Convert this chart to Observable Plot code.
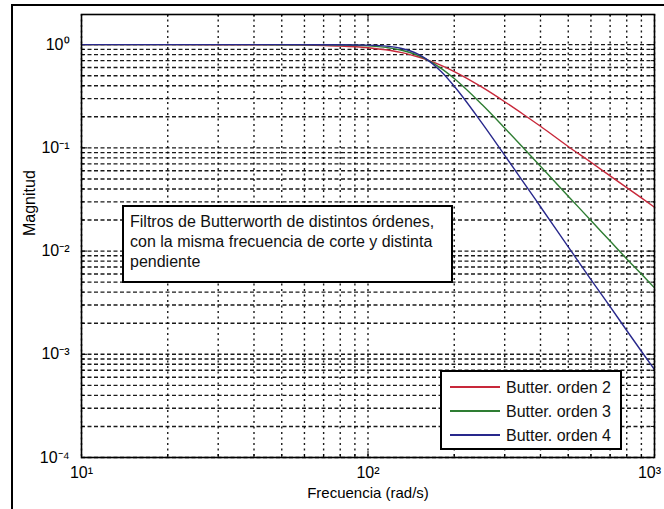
<!DOCTYPE html>
<html><head><meta charset="utf-8">
<script src="https://cdn.jsdelivr.net/npm/d3@7"></script>
<script src="https://cdn.jsdelivr.net/npm/@observablehq/plot@0.6"></script>
<style>
body{margin:0;background:#fff;}
#wrap{position:relative;width:664px;height:509px;overflow:hidden;background:#fff;font-family:"Liberation Sans",Arial,sans-serif;}
#outer{position:absolute;left:11px;top:4px;width:700px;height:600px;border:2px solid #000;box-sizing:border-box;}
#wrap svg{position:absolute;left:0;top:0;}
</style></head><body><div id="wrap"><div id="outer"></div></div>
<script>
// ---- data ----
const freq   = [10, 20, 30, 50, 70, 80, 100, 120, 130, 140, 150, 160, 180, 200, 250, 300, 350, 400, 500, 600, 700, 800, 900, 1000];
const order2 = [1.000, 1.000, 0.9994, 0.9955, 0.983, 0.9715, 0.9345, 0.8767, 0.8408, 0.8012, 0.759, 0.7158, 0.6294, 0.5486, 0.3872, 0.280, 0.2095, 0.1619, 0.1030, 0.0725, 0.0535, 0.0412, 0.0328, 0.0266];
const order3 = [1.000, 1.000, 1.000, 0.9996, 0.9968, 0.9928, 0.9734, 0.9264, 0.8884, 0.8401, 0.783, 0.7201, 0.5891, 0.4693, 0.2626, 0.1556, 0.0987, 0.0663, 0.0340, 0.0198, 0.0125, 0.0084, 0.0060, 0.0044];
const order4 = [1.000, 1.000, 1.000, 1.000, 0.9994, 0.9982, 0.9896, 0.9575, 0.9237, 0.8733, 0.806, 0.7244, 0.5486, 0.3954, 0.1737, 0.0847, 0.0459, 0.0269, 0.0110, 0.0053, 0.0029, 0.0017, 0.00107, 0.00071];
const seriesNames  = ["Butter. orden 2", "Butter. orden 3", "Butter. orden 4"];
const seriesColors = ["#c8283a", "#2e7d32", "#28288c"];
const xMajor = [10, 100, 1000];
const xTickLabels = ["10¹", "10²", "10³"];
const xMinor = [20, 30, 40, 50, 60, 70, 80, 90, 200, 300, 400, 500, 600, 700, 800, 900];
const yMajor = [1e-4, 1e-3, 1e-2, 1e-1, 1];
const yTickLabels = ["10⁻⁴", "10⁻³", "10⁻²", "10⁻¹", "10⁰"];
const yMinor = [2e-4,3e-4,4e-4,5e-4,6e-4,7e-4,8e-4,9e-4, 2e-3,3e-3,4e-3,5e-3,6e-3,7e-3,8e-3,9e-3, 2e-2,3e-2,4e-2,5e-2,6e-2,7e-2,8e-2,9e-2, 0.2,0.3,0.4,0.5,0.6,0.7,0.8,0.9];
const xLabel = "Frecuencia (rad/s)";
const yLabel = "Magnitud";
const annotationLines = ["Filtros de Butterworth de distintos órdenes,", "con la misma frecuencia de corte y distinta", "pendiente"];

// ---- build ----
const series = [order2, order3, order4];
const rows = [];
series.forEach((vals, k) => freq.forEach((f, i) => rows.push({f, v: vals[i], s: seriesNames[k]})));
const xAll = [...xMajor, ...xMinor], yAll = [...yMajor, ...yMinor];
const xFmt = d => xTickLabels[xMajor.indexOf(d)];

const W = 664, H = 509, mt = 14, mb = 52, ml = 81, mr = 10;
const fh = H - mt - mb, fw = W - ml - mr;
const font = '"Liberation Sans", Arial, sans-serif';
const gridStroke = {stroke: "#000", strokeWidth: 1.4, strokeOpacity: 0.9};

const chart = Plot.plot({
  width: W, height: H, marginTop: mt, marginBottom: mb, marginLeft: ml, marginRight: mr,
  style: {fontFamily: font, fontSize: "16px", background: "transparent", color: "#000"},
  x: {type: "log", domain: [10, 1000]},
  y: {type: "log", domain: [1e-4, 1.96]},
  color: {domain: seriesNames, range: seriesColors},
  marks: [
    Plot.ruleX(xAll, {x: d => d, ...gridStroke, strokeDasharray: "2,3.5"}),
    Plot.ruleY(yAll, {y: d => d, ...gridStroke, strokeDasharray: "4,2.5"}),
    Plot.tickX(xMinor, {x: d => d, stroke: "#000", insetTop: fh - 3}),
    Plot.tickX(xMinor, {x: d => d, stroke: "#000", insetBottom: fh - 3}),
    Plot.tickX(xMajor, {x: d => d, stroke: "#000", insetTop: fh - 6}),
    Plot.tickX(xMajor, {x: d => d, stroke: "#000", insetBottom: fh - 6}),
    Plot.tickY(yMinor, {y: d => d, stroke: "#000", insetLeft: fw - 3}),
    Plot.tickY(yMinor, {y: d => d, stroke: "#000", insetRight: fw - 3}),
    Plot.tickY(yMajor, {y: d => d, stroke: "#000", insetLeft: fw - 6}),
    Plot.tickY(yMajor, {y: d => d, stroke: "#000", insetRight: fw - 6}),
    Plot.line(rows, {x: "f", y: "v", z: "s", stroke: "s", strokeWidth: 1.4, curve: "monotone-x"}),
    Plot.frame({stroke: "#000", strokeWidth: 1.6}),
    Plot.axisX({ticks: xMajor.slice(0, 2), tickSize: 0, tickPadding: 9, tickFormat: xFmt, label: null, fontSize: 16}),
    Plot.axisX({ticks: xMajor.slice(2), tickSize: 0, tickPadding: 9, tickFormat: xFmt, label: null, fontSize: 16, dx: -5}),
    Plot.axisY({ticks: yMajor, tickSize: 0, tickPadding: 12, tickFormat: d => yTickLabels[yMajor.indexOf(d)], label: null, fontSize: 16}),
    Plot.text([xLabel], {frameAnchor: "bottom", dy: 40, text: d => d, fontSize: 15}),
    Plot.text([yLabel], {frameAnchor: "left", dx: -52, rotate: -90, text: d => d, fontSize: 16})
  ]
});
const wrap = document.getElementById("wrap");
wrap.appendChild(chart);

// ---- overlay: annotation box and legend ----
const ov = d3.select(wrap).append("svg").attr("width", W).attr("height", H)
  .style("font-family", font);
const ann = ov.append("g");
ann.append("rect").attr("x", 123).attr("y", 206).attr("width", 329).attr("height", 76)
  .attr("fill", "#fff").attr("stroke", "#000").attr("stroke-width", 2);
annotationLines.forEach((t, i) => ann.append("text").attr("x", 130).attr("y", 227 + i * 20)
  .attr("font-size", 16).attr("fill", "#111").text(t));

const leg = ov.append("g");
leg.append("rect").attr("x", 441).attr("y", 371).attr("width", 180).attr("height", 78)
  .attr("fill", "#fff").attr("stroke", "#000").attr("stroke-width", 2);
seriesNames.forEach((name, i) => {
  const y = 387 + i * 24;
  leg.append("line").attr("x1", 450).attr("x2", 500).attr("y1", y).attr("y2", y)
    .attr("stroke", seriesColors[i]).attr("stroke-width", 2);
  leg.append("text").attr("x", 506).attr("y", y + 6).attr("font-size", 16).attr("fill", "#111").text(name);
});
</script></body></html>
